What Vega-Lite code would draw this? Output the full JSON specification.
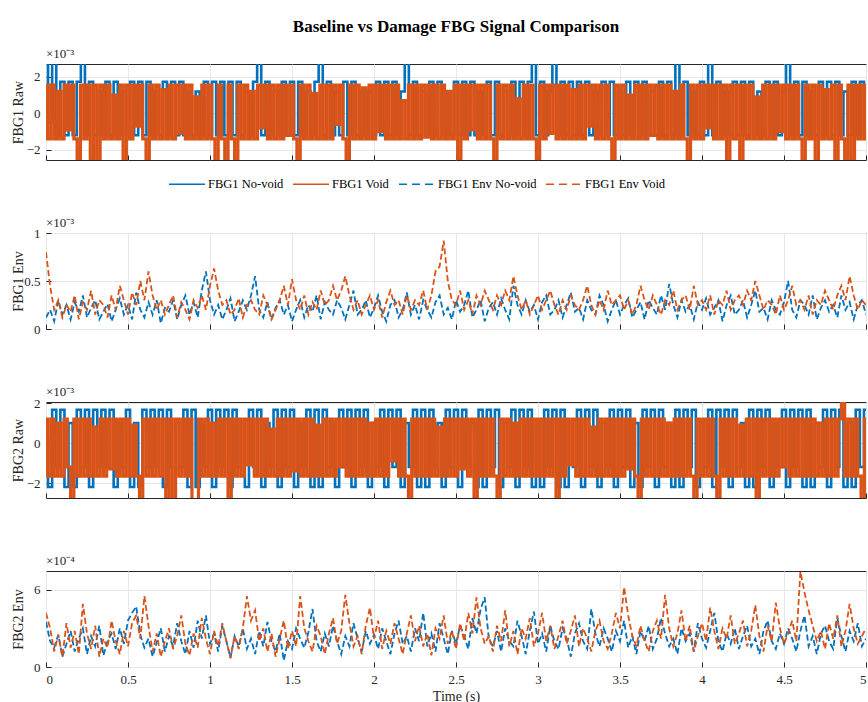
{
"$schema":"https://vega.github.io/schema/vega-lite/v6.json",
"background":"white",
"padding":{"left":10,"top":17,"right":0,"bottom":0},
"bounds":"flush",
"spacing":73,
"title":{"text":"Baseline vs Damage FBG Signal Comparison","fontSize":17,"fontWeight":"bold","font":"Liberation Serif","color":"#000000","anchor":"middle","frame":"group","offset":12},
"config":{
"view":{"stroke":"#262626","strokeWidth":1},
"axis":{"labelFont":"Liberation Serif","labelFontSize":13,"labelColor":"#262626","titleFont":"Liberation Serif","titleFontSize":14,"titleFontWeight":"normal","titleColor":"#262626","gridColor":"#e6e6e6","gridWidth":1,"domain":false,"tickColor":"#262626","tickSize":-5,"labelPadding":11,"labelOverlap":false,"format":"~g"}
},
"resolve":{"scale":{"color":"independent","strokeDash":"independent"},"legend":{"color":"independent","strokeDash":"independent"}},
"datasets":{
"a":[
{"t":0,"v":2.8},{"t":25,"v":-0.5},{"t":50,"v":2.8},{"t":75,"v":-1.2},{"t":100,"v":1.73},{"t":125,"v":-1.2},{"t":150,"v":1.73},{"t":175,"v":-1.2},{"t":200,"v":1.73},{"t":225,"v":2.8},
{"t":250,"v":-1.2},{"t":275,"v":1.73},{"t":300,"v":-1.2},{"t":325,"v":1.2},{"t":350,"v":-1.2},{"t":375,"v":1.73},{"t":400,"v":-1.2},{"t":425,"v":1.73},{"t":450,"v":-1.2},{"t":475,"v":1.2},
{"t":500,"v":-1.2},{"t":525,"v":1.73},{"t":550,"v":-1.2},{"t":575,"v":1.73},{"t":600,"v":-1.2},{"t":625,"v":1.73},{"t":650,"v":-1.2},{"t":675,"v":1.2},{"t":700,"v":-1.2},{"t":725,"v":1.73},
{"t":750,"v":-1.2},{"t":775,"v":1.73},{"t":800,"v":-1.2},{"t":825,"v":1.73},{"t":850,"v":-1.2},{"t":875,"v":1.2},{"t":900,"v":-1.2},{"t":925,"v":1.2},{"t":950,"v":-1.2},{"t":975,"v":1.73},
{"t":1000,"v":-1.2},{"t":1025,"v":1.73},{"t":1050,"v":-1.2},{"t":1075,"v":1.73},{"t":1100,"v":-1.2},{"t":1125,"v":1.73},{"t":1150,"v":-1.2},{"t":1175,"v":1.73},{"t":1200,"v":-1.2},{"t":1225,"v":1.2},
{"t":1250,"v":-1.2},{"t":1275,"v":1.73},{"t":1300,"v":2.8},{"t":1325,"v":-1.2},{"t":1350,"v":1.73},{"t":1375,"v":-1.2},{"t":1400,"v":1.2},{"t":1425,"v":-1.2},{"t":1450,"v":1.73},{"t":1475,"v":-1.2},
{"t":1500,"v":1.73},{"t":1525,"v":-1.2},{"t":1550,"v":1.73},{"t":1575,"v":-1.2},{"t":1600,"v":1.2},{"t":1625,"v":-1.2},{"t":1650,"v":1.73},{"t":1675,"v":2.8},{"t":1700,"v":-1.2},{"t":1725,"v":1.73},
{"t":1750,"v":-1.2},{"t":1775,"v":1.2},{"t":1800,"v":-1.2},{"t":1825,"v":1.73},{"t":1850,"v":-1.2},{"t":1875,"v":1.73},{"t":1900,"v":-1.2},{"t":1925,"v":1.2},{"t":1950,"v":-1.2},{"t":1975,"v":1.2},
{"t":2000,"v":-1.2},{"t":2025,"v":1.73},{"t":2050,"v":-1.2},{"t":2075,"v":1.73},{"t":2100,"v":-1.2},{"t":2125,"v":1.73},{"t":2150,"v":-1.2},{"t":2175,"v":1.2},{"t":2200,"v":2.8},{"t":2225,"v":-1.2},
{"t":2250,"v":1.73},{"t":2275,"v":-1.2},{"t":2300,"v":1.2},{"t":2325,"v":-1.2},{"t":2350,"v":1.73},{"t":2375,"v":-1.2},{"t":2400,"v":1.73},{"t":2425,"v":-1.2},{"t":2450,"v":1.2},{"t":2475,"v":-1.2},
{"t":2500,"v":1.73},{"t":2525,"v":-1.2},{"t":2550,"v":1.73},{"t":2575,"v":-1.2},{"t":2600,"v":1.73},{"t":2625,"v":-1.2},{"t":2650,"v":1.2},{"t":2675,"v":-1.2},{"t":2700,"v":1.73},{"t":2725,"v":-1.2},
{"t":2750,"v":1.73},{"t":2775,"v":-1.2},{"t":2800,"v":1.2},{"t":2825,"v":-1.2},{"t":2850,"v":1.73},{"t":2875,"v":-1.2},{"t":2900,"v":1.73},{"t":2925,"v":-1.2},{"t":2950,"v":1.73},{"t":2975,"v":2.8},
{"t":3000,"v":-1.2},{"t":3025,"v":1.73},{"t":3050,"v":-1.2},{"t":3075,"v":1.2},{"t":3100,"v":2.8},{"t":3125,"v":-1.2},{"t":3150,"v":1.73},{"t":3175,"v":-1.2},{"t":3200,"v":1.73},{"t":3225,"v":-1.2},
{"t":3250,"v":1.73},{"t":3275,"v":-1.2},{"t":3300,"v":1.73},{"t":3325,"v":-1.2},{"t":3350,"v":1.2},{"t":3375,"v":-1.2},{"t":3400,"v":1.73},{"t":3425,"v":-1.2},{"t":3450,"v":1.73},{"t":3475,"v":-1.2},
{"t":3500,"v":1.2},{"t":3525,"v":-1.2},{"t":3550,"v":1.73},{"t":3575,"v":-1.2},{"t":3600,"v":1.73},{"t":3625,"v":-1.2},{"t":3650,"v":1.73},{"t":3675,"v":-1.2},{"t":3700,"v":1.2},{"t":3725,"v":-1.2},
{"t":3750,"v":1.73},{"t":3775,"v":-1.2},{"t":3800,"v":1.73},{"t":3825,"v":-1.2},{"t":3850,"v":2.8},{"t":3875,"v":-1.2},{"t":3900,"v":1.73},{"t":3925,"v":-1.2},{"t":3950,"v":1.2},{"t":3975,"v":-1.2},
{"t":4000,"v":1.73},{"t":4025,"v":-1.2},{"t":4050,"v":2.8},{"t":4075,"v":-1.2},{"t":4100,"v":1.73},{"t":4125,"v":-1.2},{"t":4150,"v":1.2},{"t":4175,"v":-1.2},{"t":4200,"v":1.73},{"t":4225,"v":-1.2},
{"t":4250,"v":1.73},{"t":4275,"v":-1.2},{"t":4300,"v":1.73},{"t":4325,"v":-1.2},{"t":4350,"v":1.2},{"t":4375,"v":-1.2},{"t":4400,"v":1.73},{"t":4425,"v":-1.2},{"t":4450,"v":1.73},{"t":4475,"v":-1.2},
{"t":4500,"v":1.2},{"t":4525,"v":2.8},{"t":4550,"v":-1.2},{"t":4575,"v":1.73},{"t":4600,"v":-1.2},{"t":4625,"v":1.73},{"t":4650,"v":-1.2},{"t":4675,"v":1.2},{"t":4700,"v":-1.2},{"t":4725,"v":1.73},
{"t":4750,"v":-1.2},{"t":4775,"v":1.73},{"t":4800,"v":-1.2},{"t":4825,"v":1.73},{"t":4850,"v":-1.2},{"t":4875,"v":1.2},{"t":4900,"v":-1.2},{"t":4925,"v":1.73},{"t":4950,"v":-1.2},{"t":4975,"v":1.73},
{"t":5000,"v":-1.2}
],
"b":[
{"t":0,"v":1.55},{"t":20,"v":-1.4},{"t":40,"v":1.55},{"t":60,"v":-1.4},{"t":80,"v":1.2},{"t":100,"v":-1.4},{"t":120,"v":1.55},{"t":140,"v":-0.9},{"t":160,"v":1.55},{"t":180,"v":-1.4},
{"t":200,"v":-2.6},{"t":220,"v":1.55},{"t":240,"v":-1.4},{"t":260,"v":1.55},{"t":280,"v":-2.6},{"t":300,"v":1.55},{"t":320,"v":-2.6},{"t":340,"v":1.55},{"t":360,"v":-1.4},{"t":380,"v":1.55},
{"t":400,"v":-1.4},{"t":420,"v":1.0},{"t":440,"v":-1.4},{"t":460,"v":1.55},{"t":480,"v":-2.6},{"t":500,"v":1.55},{"t":520,"v":-1.4},{"t":540,"v":1.55},{"t":560,"v":-0.7},{"t":580,"v":1.55},
{"t":600,"v":-1.4},{"t":620,"v":-2.6},{"t":640,"v":1.55},{"t":660,"v":-1.4},{"t":680,"v":1.55},{"t":700,"v":-1.4},{"t":720,"v":1.3},{"t":740,"v":-1.4},{"t":760,"v":1.55},{"t":780,"v":-1.4},
{"t":800,"v":1.55},{"t":820,"v":-1.1},{"t":840,"v":1.55},{"t":860,"v":-1.4},{"t":880,"v":1.55},{"t":900,"v":-1.4},{"t":920,"v":0.9},{"t":940,"v":-1.4},{"t":960,"v":1.55},{"t":980,"v":-1.4},
{"t":1000,"v":1.55},{"t":1020,"v":-1.4},{"t":1040,"v":-2.6},{"t":1060,"v":1.55},{"t":1080,"v":-1.4},{"t":1100,"v":-2.6},{"t":1120,"v":1.55},{"t":1140,"v":-1.4},{"t":1160,"v":-2.6},{"t":1180,"v":1.55},
{"t":1200,"v":-1.4},{"t":1220,"v":1.55},{"t":1240,"v":-1.4},{"t":1260,"v":1.2},{"t":1280,"v":-1.4},{"t":1300,"v":1.55},{"t":1320,"v":-0.8},{"t":1340,"v":1.55},{"t":1360,"v":-1.4},{"t":1380,"v":1.55},
{"t":1400,"v":-1.4},{"t":1420,"v":1.55},{"t":1440,"v":-1.4},{"t":1460,"v":1.55},{"t":1480,"v":-1.2},{"t":1500,"v":1.55},{"t":1520,"v":-1.4},{"t":1540,"v":-2.6},{"t":1560,"v":1.55},{"t":1580,"v":-1.4},
{"t":1600,"v":1.55},{"t":1620,"v":-1.4},{"t":1640,"v":1.1},{"t":1660,"v":-1.4},{"t":1680,"v":1.55},{"t":1700,"v":-1.4},{"t":1720,"v":1.55},{"t":1740,"v":-1.4},{"t":1760,"v":1.55},{"t":1780,"v":-0.6},
{"t":1800,"v":1.55},{"t":1820,"v":-1.4},{"t":1840,"v":-2.6},{"t":1860,"v":1.55},{"t":1880,"v":-1.4},{"t":1900,"v":1.55},{"t":1920,"v":-1.4},{"t":1940,"v":1.4},{"t":1960,"v":-1.4},{"t":1980,"v":1.55},
{"t":2000,"v":-1.4},{"t":2020,"v":1.55},{"t":2040,"v":-1.0},{"t":2060,"v":1.55},{"t":2080,"v":-1.4},{"t":2100,"v":1.55},{"t":2120,"v":-1.4},{"t":2140,"v":1.55},{"t":2160,"v":-1.4},{"t":2180,"v":0.7},
{"t":2200,"v":-1.4},{"t":2220,"v":1.55},{"t":2240,"v":-1.4},{"t":2260,"v":1.55},{"t":2280,"v":-1.4},{"t":2300,"v":1.55},{"t":2320,"v":-1.3},{"t":2340,"v":1.55},{"t":2360,"v":-1.4},{"t":2380,"v":1.55},
{"t":2400,"v":-1.4},{"t":2420,"v":1.55},{"t":2440,"v":-1.4},{"t":2460,"v":1.2},{"t":2480,"v":-1.4},{"t":2500,"v":1.55},{"t":2520,"v":-2.6},{"t":2540,"v":1.55},{"t":2560,"v":-1.4},{"t":2580,"v":1.55},
{"t":2600,"v":-0.9},{"t":2620,"v":1.55},{"t":2640,"v":-1.4},{"t":2660,"v":1.55},{"t":2680,"v":-1.4},{"t":2700,"v":1.55},{"t":2720,"v":-1.4},{"t":2740,"v":-2.6},{"t":2760,"v":1.55},{"t":2780,"v":-1.4},
{"t":2800,"v":1.55},{"t":2820,"v":-1.4},{"t":2840,"v":1.55},{"t":2860,"v":-1.4},{"t":2880,"v":0.8},{"t":2900,"v":-1.4},{"t":2920,"v":1.55},{"t":2940,"v":-1.4},{"t":2960,"v":1.55},{"t":2980,"v":-1.4},
{"t":3000,"v":-2.6},{"t":3020,"v":1.55},{"t":3040,"v":-1.4},{"t":3060,"v":1.55},{"t":3080,"v":-1.1},{"t":3100,"v":1.55},{"t":3120,"v":-1.4},{"t":3140,"v":1.55},{"t":3160,"v":-1.4},{"t":3180,"v":1.55},
{"t":3200,"v":-1.4},{"t":3220,"v":1.3},{"t":3240,"v":-1.4},{"t":3260,"v":1.55},{"t":3280,"v":-1.4},{"t":3300,"v":1.55},{"t":3320,"v":-0.7},{"t":3340,"v":1.55},{"t":3360,"v":-1.4},{"t":3380,"v":1.55},
{"t":3400,"v":-1.4},{"t":3420,"v":1.55},{"t":3440,"v":-1.4},{"t":3460,"v":-2.6},{"t":3480,"v":1.55},{"t":3500,"v":-1.4},{"t":3520,"v":1.55},{"t":3540,"v":-1.4},{"t":3560,"v":1.0},{"t":3580,"v":-1.4},
{"t":3600,"v":1.55},{"t":3620,"v":-1.4},{"t":3640,"v":1.55},{"t":3660,"v":-1.4},{"t":3680,"v":1.55},{"t":3700,"v":-1.2},{"t":3720,"v":1.55},{"t":3740,"v":-1.4},{"t":3760,"v":1.55},{"t":3780,"v":-1.4},
{"t":3800,"v":1.55},{"t":3820,"v":-1.4},{"t":3840,"v":1.2},{"t":3860,"v":-1.4},{"t":3880,"v":1.55},{"t":3900,"v":-1.4},{"t":3920,"v":-2.6},{"t":3940,"v":1.55},{"t":3960,"v":-1.4},{"t":3980,"v":1.55},
{"t":4000,"v":-1.4},{"t":4020,"v":1.55},{"t":4040,"v":-0.8},{"t":4060,"v":1.55},{"t":4080,"v":-1.4},{"t":4100,"v":1.55},{"t":4120,"v":-1.4},{"t":4140,"v":1.55},{"t":4160,"v":-2.6},{"t":4180,"v":1.55},
{"t":4200,"v":-1.4},{"t":4220,"v":1.55},{"t":4240,"v":-2.6},{"t":4260,"v":1.55},{"t":4280,"v":-1.4},{"t":4300,"v":1.55},{"t":4320,"v":-1.4},{"t":4340,"v":0.9},{"t":4360,"v":-1.4},{"t":4380,"v":1.55},
{"t":4400,"v":-1.4},{"t":4420,"v":1.55},{"t":4440,"v":-1.4},{"t":4460,"v":1.55},{"t":4480,"v":-1.0},{"t":4500,"v":1.55},{"t":4520,"v":-1.4},{"t":4540,"v":1.55},{"t":4560,"v":-1.4},{"t":4580,"v":1.55},
{"t":4600,"v":-1.4},{"t":4620,"v":-2.6},{"t":4640,"v":1.55},{"t":4660,"v":-1.4},{"t":4680,"v":1.55},{"t":4700,"v":-2.6},{"t":4720,"v":1.55},{"t":4740,"v":-1.4},{"t":4760,"v":1.3},{"t":4780,"v":-1.4},
{"t":4800,"v":1.55},{"t":4820,"v":-2.6},{"t":4840,"v":1.55},{"t":4860,"v":-1.4},{"t":4880,"v":-2.6},{"t":4900,"v":1.55},{"t":4920,"v":-2.6},{"t":4940,"v":1.55},{"t":4960,"v":-1.4},{"t":4980,"v":1.55},
{"t":5000,"v":-1.4}
],
"c":[
{"t":0,"v":0.12},{"t":25,"v":0.2},{"t":50,"v":0.08},{"t":75,"v":0.3},{"t":100,"v":0.15},{"t":125,"v":0.25},{"t":150,"v":0.1},{"t":175,"v":0.28},{"t":200,"v":0.18},{"t":225,"v":0.35},
{"t":250,"v":0.12},{"t":275,"v":0.22},{"t":300,"v":0.3},{"t":325,"v":0.1},{"t":350,"v":0.18},{"t":375,"v":0.26},{"t":400,"v":0.08},{"t":425,"v":0.2},{"t":450,"v":0.32},{"t":475,"v":0.15},
{"t":500,"v":0.25},{"t":525,"v":0.1},{"t":550,"v":0.38},{"t":575,"v":0.2},{"t":600,"v":0.12},{"t":625,"v":0.28},{"t":650,"v":0.15},{"t":675,"v":0.3},{"t":700,"v":0.06},{"t":725,"v":0.22},
{"t":750,"v":0.18},{"t":775,"v":0.3},{"t":800,"v":0.1},{"t":825,"v":0.25},{"t":850,"v":0.35},{"t":875,"v":0.15},{"t":900,"v":0.28},{"t":925,"v":0.12},{"t":950,"v":0.4},{"t":975,"v":0.6},
{"t":1000,"v":0.3},{"t":1025,"v":0.15},{"t":1050,"v":0.25},{"t":1075,"v":0.1},{"t":1100,"v":0.2},{"t":1125,"v":0.32},{"t":1150,"v":0.08},{"t":1175,"v":0.18},{"t":1200,"v":0.3},{"t":1225,"v":0.2},
{"t":1250,"v":0.35},{"t":1275,"v":0.55},{"t":1300,"v":0.2},{"t":1325,"v":0.12},{"t":1350,"v":0.28},{"t":1375,"v":0.1},{"t":1400,"v":0.22},{"t":1425,"v":0.3},{"t":1450,"v":0.15},{"t":1475,"v":0.25},
{"t":1500,"v":0.08},{"t":1525,"v":0.2},{"t":1550,"v":0.3},{"t":1575,"v":0.12},{"t":1600,"v":0.25},{"t":1625,"v":0.18},{"t":1650,"v":0.35},{"t":1675,"v":0.1},{"t":1700,"v":0.28},{"t":1725,"v":0.2},
{"t":1750,"v":0.15},{"t":1775,"v":0.3},{"t":1800,"v":0.22},{"t":1825,"v":0.1},{"t":1850,"v":0.25},{"t":1875,"v":0.4},{"t":1900,"v":0.15},{"t":1925,"v":0.2},{"t":1950,"v":0.3},{"t":1975,"v":0.12},
{"t":2000,"v":0.22},{"t":2025,"v":0.35},{"t":2050,"v":0.18},{"t":2075,"v":0.08},{"t":2100,"v":0.25},{"t":2125,"v":0.3},{"t":2150,"v":0.12},{"t":2175,"v":0.2},{"t":2200,"v":0.38},{"t":2225,"v":0.15},
{"t":2250,"v":0.25},{"t":2275,"v":0.1},{"t":2300,"v":0.3},{"t":2325,"v":0.2},{"t":2350,"v":0.12},{"t":2375,"v":0.28},{"t":2400,"v":0.35},{"t":2425,"v":0.15},{"t":2450,"v":0.22},{"t":2475,"v":0.1},
{"t":2500,"v":0.3},{"t":2525,"v":0.18},{"t":2550,"v":0.25},{"t":2575,"v":0.4},{"t":2600,"v":0.12},{"t":2625,"v":0.2},{"t":2650,"v":0.3},{"t":2675,"v":0.08},{"t":2700,"v":0.22},{"t":2725,"v":0.28},
{"t":2750,"v":0.15},{"t":2775,"v":0.32},{"t":2800,"v":0.2},{"t":2825,"v":0.1},{"t":2850,"v":0.45},{"t":2875,"v":0.25},{"t":2900,"v":0.15},{"t":2925,"v":0.3},{"t":2950,"v":0.18},{"t":2975,"v":0.25},
{"t":3000,"v":0.1},{"t":3025,"v":0.28},{"t":3050,"v":0.35},{"t":3075,"v":0.15},{"t":3100,"v":0.2},{"t":3125,"v":0.3},{"t":3150,"v":0.12},{"t":3175,"v":0.25},{"t":3200,"v":0.38},{"t":3225,"v":0.18},
{"t":3250,"v":0.22},{"t":3275,"v":0.1},{"t":3300,"v":0.3},{"t":3325,"v":0.2},{"t":3350,"v":0.15},{"t":3375,"v":0.35},{"t":3400,"v":0.25},{"t":3425,"v":0.08},{"t":3450,"v":0.2},{"t":3475,"v":0.3},
{"t":3500,"v":0.15},{"t":3525,"v":0.25},{"t":3550,"v":0.32},{"t":3575,"v":0.12},{"t":3600,"v":0.2},{"t":3625,"v":0.28},{"t":3650,"v":0.1},{"t":3675,"v":0.3},{"t":3700,"v":0.22},{"t":3725,"v":0.15},
{"t":3750,"v":0.35},{"t":3775,"v":0.2},{"t":3800,"v":0.47},{"t":3825,"v":0.25},{"t":3850,"v":0.12},{"t":3875,"v":0.3},{"t":3900,"v":0.18},{"t":3925,"v":0.25},{"t":3950,"v":0.1},{"t":3975,"v":0.28},
{"t":4000,"v":0.2},{"t":4025,"v":0.32},{"t":4050,"v":0.15},{"t":4075,"v":0.22},{"t":4100,"v":0.3},{"t":4125,"v":0.08},{"t":4150,"v":0.25},{"t":4175,"v":0.35},{"t":4200,"v":0.15},{"t":4225,"v":0.2},
{"t":4250,"v":0.3},{"t":4275,"v":0.12},{"t":4300,"v":0.25},{"t":4325,"v":0.4},{"t":4350,"v":0.18},{"t":4375,"v":0.22},{"t":4400,"v":0.1},{"t":4425,"v":0.3},{"t":4450,"v":0.2},{"t":4475,"v":0.15},
{"t":4500,"v":0.28},{"t":4525,"v":0.5},{"t":4550,"v":0.2},{"t":4575,"v":0.12},{"t":4600,"v":0.3},{"t":4625,"v":0.25},{"t":4650,"v":0.15},{"t":4675,"v":0.35},{"t":4700,"v":0.1},{"t":4725,"v":0.22},
{"t":4750,"v":0.3},{"t":4775,"v":0.18},{"t":4800,"v":0.25},{"t":4825,"v":0.12},{"t":4850,"v":0.35},{"t":4875,"v":0.2},{"t":4900,"v":0.28},{"t":4925,"v":0.1},{"t":4950,"v":0.25},{"t":4975,"v":0.3},
{"t":5000,"v":0.15}
],
"d":[
{"t":0,"v":0.8},{"t":25,"v":0.45},{"t":50,"v":0.2},{"t":75,"v":0.3},{"t":100,"v":0.12},{"t":125,"v":0.25},{"t":150,"v":0.18},{"t":175,"v":0.35},{"t":200,"v":0.1},{"t":225,"v":0.28},
{"t":250,"v":0.2},{"t":275,"v":0.4},{"t":300,"v":0.15},{"t":325,"v":0.3},{"t":350,"v":0.25},{"t":375,"v":0.12},{"t":400,"v":0.35},{"t":425,"v":0.2},{"t":450,"v":0.45},{"t":475,"v":0.3},
{"t":500,"v":0.15},{"t":525,"v":0.38},{"t":550,"v":0.25},{"t":575,"v":0.5},{"t":600,"v":0.3},{"t":625,"v":0.6},{"t":650,"v":0.35},{"t":675,"v":0.2},{"t":700,"v":0.3},{"t":725,"v":0.15},
{"t":750,"v":0.25},{"t":775,"v":0.35},{"t":800,"v":0.12},{"t":825,"v":0.28},{"t":850,"v":0.2},{"t":875,"v":0.1},{"t":900,"v":0.3},{"t":925,"v":0.22},{"t":950,"v":0.35},{"t":975,"v":0.2},
{"t":1000,"v":0.45},{"t":1025,"v":0.63},{"t":1050,"v":0.4},{"t":1075,"v":0.25},{"t":1100,"v":0.3},{"t":1125,"v":0.15},{"t":1150,"v":0.2},{"t":1175,"v":0.32},{"t":1200,"v":0.12},{"t":1225,"v":0.25},
{"t":1250,"v":0.3},{"t":1275,"v":0.2},{"t":1300,"v":0.15},{"t":1325,"v":0.35},{"t":1350,"v":0.25},{"t":1375,"v":0.1},{"t":1400,"v":0.2},{"t":1425,"v":0.3},{"t":1450,"v":0.45},{"t":1475,"v":0.25},
{"t":1500,"v":0.52},{"t":1525,"v":0.3},{"t":1550,"v":0.2},{"t":1575,"v":0.35},{"t":1600,"v":0.15},{"t":1625,"v":0.28},{"t":1650,"v":0.2},{"t":1675,"v":0.4},{"t":1700,"v":0.25},{"t":1725,"v":0.3},
{"t":1750,"v":0.45},{"t":1775,"v":0.3},{"t":1800,"v":0.4},{"t":1825,"v":0.55},{"t":1850,"v":0.35},{"t":1875,"v":0.2},{"t":1900,"v":0.3},{"t":1925,"v":0.15},{"t":1950,"v":0.25},{"t":1975,"v":0.35},
{"t":2000,"v":0.2},{"t":2025,"v":0.3},{"t":2050,"v":0.12},{"t":2075,"v":0.28},{"t":2100,"v":0.4},{"t":2125,"v":0.25},{"t":2150,"v":0.3},{"t":2175,"v":0.15},{"t":2200,"v":0.35},{"t":2225,"v":0.2},
{"t":2250,"v":0.3},{"t":2275,"v":0.25},{"t":2300,"v":0.4},{"t":2325,"v":0.2},{"t":2350,"v":0.35},{"t":2375,"v":0.6},{"t":2400,"v":0.65},{"t":2425,"v":0.92},{"t":2450,"v":0.5},{"t":2475,"v":0.3},
{"t":2500,"v":0.25},{"t":2525,"v":0.4},{"t":2550,"v":0.2},{"t":2575,"v":0.3},{"t":2600,"v":0.15},{"t":2625,"v":0.35},{"t":2650,"v":0.25},{"t":2675,"v":0.4},{"t":2700,"v":0.3},{"t":2725,"v":0.2},
{"t":2750,"v":0.35},{"t":2775,"v":0.25},{"t":2800,"v":0.4},{"t":2825,"v":0.3},{"t":2850,"v":0.55},{"t":2875,"v":0.35},{"t":2900,"v":0.2},{"t":2925,"v":0.3},{"t":2950,"v":0.15},{"t":2975,"v":0.25},
{"t":3000,"v":0.35},{"t":3025,"v":0.2},{"t":3050,"v":0.3},{"t":3075,"v":0.4},{"t":3100,"v":0.25},{"t":3125,"v":0.15},{"t":3150,"v":0.3},{"t":3175,"v":0.2},{"t":3200,"v":0.35},{"t":3225,"v":0.25},
{"t":3250,"v":0.2},{"t":3275,"v":0.3},{"t":3300,"v":0.45},{"t":3325,"v":0.25},{"t":3350,"v":0.15},{"t":3375,"v":0.3},{"t":3400,"v":0.2},{"t":3425,"v":0.4},{"t":3450,"v":0.25},{"t":3475,"v":0.3},
{"t":3500,"v":0.35},{"t":3525,"v":0.2},{"t":3550,"v":0.3},{"t":3575,"v":0.15},{"t":3600,"v":0.25},{"t":3625,"v":0.45},{"t":3650,"v":0.3},{"t":3675,"v":0.2},{"t":3700,"v":0.35},{"t":3725,"v":0.25},
{"t":3750,"v":0.15},{"t":3775,"v":0.3},{"t":3800,"v":0.25},{"t":3825,"v":0.4},{"t":3850,"v":0.2},{"t":3875,"v":0.3},{"t":3900,"v":0.35},{"t":3925,"v":0.2},{"t":3950,"v":0.45},{"t":3975,"v":0.25},
{"t":4000,"v":0.3},{"t":4025,"v":0.2},{"t":4050,"v":0.35},{"t":4075,"v":0.15},{"t":4100,"v":0.3},{"t":4125,"v":0.25},{"t":4150,"v":0.4},{"t":4175,"v":0.2},{"t":4200,"v":0.3},{"t":4225,"v":0.35},
{"t":4250,"v":0.25},{"t":4275,"v":0.4},{"t":4300,"v":0.3},{"t":4325,"v":0.5},{"t":4350,"v":0.35},{"t":4375,"v":0.2},{"t":4400,"v":0.3},{"t":4425,"v":0.25},{"t":4450,"v":0.15},{"t":4475,"v":0.35},
{"t":4500,"v":0.2},{"t":4525,"v":0.3},{"t":4550,"v":0.45},{"t":4575,"v":0.25},{"t":4600,"v":0.3},{"t":4625,"v":0.2},{"t":4650,"v":0.35},{"t":4675,"v":0.15},{"t":4700,"v":0.3},{"t":4725,"v":0.25},
{"t":4750,"v":0.4},{"t":4775,"v":0.3},{"t":4800,"v":0.2},{"t":4825,"v":0.35},{"t":4850,"v":0.45},{"t":4875,"v":0.3},{"t":4900,"v":0.55},{"t":4925,"v":0.35},{"t":4950,"v":0.2},{"t":4975,"v":0.3},
{"t":5000,"v":0.25}
],
"e":[
{"t":0,"v":0.3},{"t":25,"v":-2.2},{"t":50,"v":1.66},{"t":75,"v":-1.2},{"t":100,"v":1.66},{"t":125,"v":-2.2},{"t":150,"v":1.0},{"t":175,"v":-2.2},{"t":200,"v":1.66},{"t":225,"v":-1.2},
{"t":250,"v":1.66},{"t":275,"v":-2.2},{"t":300,"v":1.66},{"t":325,"v":-1.2},{"t":350,"v":1.66},{"t":375,"v":-1.2},{"t":400,"v":1.66},{"t":425,"v":-2.2},{"t":450,"v":1.0},{"t":475,"v":-1.2},
{"t":500,"v":1.66},{"t":525,"v":-2.2},{"t":550,"v":1.0},{"t":575,"v":-2.2},{"t":600,"v":1.66},{"t":625,"v":-1.2},{"t":650,"v":1.66},{"t":675,"v":-1.2},{"t":700,"v":1.66},{"t":725,"v":-2.2},
{"t":750,"v":1.66},{"t":775,"v":-1.2},{"t":800,"v":1.0},{"t":825,"v":-1.2},{"t":850,"v":1.66},{"t":875,"v":-2.2},{"t":900,"v":1.66},{"t":925,"v":-2.2},{"t":950,"v":1.0},{"t":975,"v":-1.2},
{"t":1000,"v":1.66},{"t":1025,"v":-2.2},{"t":1050,"v":1.66},{"t":1075,"v":-1.2},{"t":1100,"v":1.66},{"t":1125,"v":-2.2},{"t":1150,"v":1.66},{"t":1175,"v":-1.2},{"t":1200,"v":1.0},{"t":1225,"v":-2.2},
{"t":1250,"v":1.66},{"t":1275,"v":-1.2},{"t":1300,"v":1.66},{"t":1325,"v":-2.2},{"t":1350,"v":1.0},{"t":1375,"v":-1.2},{"t":1400,"v":1.66},{"t":1425,"v":-2.2},{"t":1450,"v":1.66},{"t":1475,"v":-1.2},
{"t":1500,"v":1.66},{"t":1525,"v":-2.2},{"t":1550,"v":1.0},{"t":1575,"v":-1.2},{"t":1600,"v":1.66},{"t":1625,"v":-2.2},{"t":1650,"v":1.66},{"t":1675,"v":-2.2},{"t":1700,"v":1.66},{"t":1725,"v":-1.2},
{"t":1750,"v":1.0},{"t":1775,"v":-2.2},{"t":1800,"v":1.66},{"t":1825,"v":-1.2},{"t":1850,"v":1.66},{"t":1875,"v":-2.2},{"t":1900,"v":1.66},{"t":1925,"v":-1.2},{"t":1950,"v":1.66},{"t":1975,"v":-2.2},
{"t":2000,"v":1.0},{"t":2025,"v":-1.2},{"t":2050,"v":1.66},{"t":2075,"v":-2.2},{"t":2100,"v":1.66},{"t":2125,"v":-1.2},{"t":2150,"v":1.66},{"t":2175,"v":-2.2},{"t":2200,"v":1.0},{"t":2225,"v":-1.2},
{"t":2250,"v":1.66},{"t":2275,"v":-2.2},{"t":2300,"v":1.66},{"t":2325,"v":-2.2},{"t":2350,"v":1.66},{"t":2375,"v":-1.2},{"t":2400,"v":1.0},{"t":2425,"v":-2.2},{"t":2450,"v":1.66},{"t":2475,"v":-1.2},
{"t":2500,"v":1.66},{"t":2525,"v":-2.2},{"t":2550,"v":1.66},{"t":2575,"v":-1.2},{"t":2600,"v":1.0},{"t":2625,"v":-2.2},{"t":2650,"v":1.66},{"t":2675,"v":-2.2},{"t":2700,"v":1.66},{"t":2725,"v":-1.2},
{"t":2750,"v":1.66},{"t":2775,"v":-2.2},{"t":2800,"v":1.0},{"t":2825,"v":-1.2},{"t":2850,"v":1.66},{"t":2875,"v":-2.2},{"t":2900,"v":1.66},{"t":2925,"v":-1.2},{"t":2950,"v":1.66},{"t":2975,"v":-2.2},
{"t":3000,"v":1.0},{"t":3025,"v":-2.2},{"t":3050,"v":1.66},{"t":3075,"v":-1.2},{"t":3100,"v":1.66},{"t":3125,"v":-2.2},{"t":3150,"v":1.66},{"t":3175,"v":-2.2},{"t":3200,"v":1.0},{"t":3225,"v":-1.2},
{"t":3250,"v":1.66},{"t":3275,"v":-2.2},{"t":3300,"v":1.66},{"t":3325,"v":-1.2},{"t":3350,"v":1.66},{"t":3375,"v":-2.2},{"t":3400,"v":1.0},{"t":3425,"v":-1.2},{"t":3450,"v":1.66},{"t":3475,"v":-2.2},
{"t":3500,"v":1.66},{"t":3525,"v":-1.2},{"t":3550,"v":1.66},{"t":3575,"v":-2.2},{"t":3600,"v":1.0},{"t":3625,"v":-2.2},{"t":3650,"v":1.66},{"t":3675,"v":-1.2},{"t":3700,"v":1.66},{"t":3725,"v":-2.2},
{"t":3750,"v":1.66},{"t":3775,"v":-1.2},{"t":3800,"v":1.0},{"t":3825,"v":-2.2},{"t":3850,"v":1.66},{"t":3875,"v":-2.2},{"t":3900,"v":1.66},{"t":3925,"v":-1.2},{"t":3950,"v":1.66},{"t":3975,"v":-2.2},
{"t":4000,"v":1.0},{"t":4025,"v":-1.2},{"t":4050,"v":1.66},{"t":4075,"v":-2.2},{"t":4100,"v":1.66},{"t":4125,"v":-1.2},{"t":4150,"v":1.66},{"t":4175,"v":-2.2},{"t":4200,"v":1.66},{"t":4225,"v":-1.2},
{"t":4250,"v":1.0},{"t":4275,"v":-2.2},{"t":4300,"v":1.66},{"t":4325,"v":-2.2},{"t":4350,"v":1.66},{"t":4375,"v":-1.2},{"t":4400,"v":1.66},{"t":4425,"v":-2.2},{"t":4450,"v":1.0},{"t":4475,"v":-1.2},
{"t":4500,"v":1.66},{"t":4525,"v":-2.2},{"t":4550,"v":1.66},{"t":4575,"v":-1.2},{"t":4600,"v":1.66},{"t":4625,"v":-2.2},{"t":4650,"v":1.66},{"t":4675,"v":-2.2},{"t":4700,"v":1.0},{"t":4725,"v":-1.2},
{"t":4750,"v":1.66},{"t":4775,"v":-2.2},{"t":4800,"v":1.66},{"t":4825,"v":-1.2},{"t":4850,"v":1.66},{"t":4875,"v":-2.2},{"t":4900,"v":1.0},{"t":4925,"v":-2.2},{"t":4950,"v":1.66},{"t":4975,"v":-1.2},
{"t":5000,"v":1.66}
],
"f":[
{"t":0,"v":1.2},{"t":20,"v":-1.66},{"t":40,"v":1.2},{"t":60,"v":-1.66},{"t":80,"v":1.0},{"t":100,"v":-1.66},{"t":120,"v":1.2},{"t":140,"v":-1.2},{"t":160,"v":-2.9},{"t":180,"v":1.2},
{"t":200,"v":-1.66},{"t":220,"v":1.2},{"t":240,"v":-1.66},{"t":260,"v":1.2},{"t":280,"v":-1.66},{"t":300,"v":0.8},{"t":320,"v":-1.66},{"t":340,"v":1.2},{"t":360,"v":-1.66},{"t":380,"v":1.2},
{"t":400,"v":-1.3},{"t":420,"v":1.2},{"t":440,"v":-1.66},{"t":460,"v":1.2},{"t":480,"v":-1.66},{"t":500,"v":1.2},{"t":520,"v":-1.66},{"t":540,"v":0.9},{"t":560,"v":-1.66},{"t":580,"v":-2.9},
{"t":600,"v":1.2},{"t":620,"v":-1.66},{"t":640,"v":1.2},{"t":660,"v":-1.66},{"t":680,"v":1.2},{"t":700,"v":-1.66},{"t":720,"v":1.2},{"t":740,"v":-2.9},{"t":760,"v":1.2},{"t":780,"v":-2.9},
{"t":800,"v":1.2},{"t":820,"v":-1.66},{"t":840,"v":1.2},{"t":860,"v":-1.66},{"t":880,"v":1.2},{"t":900,"v":-2.9},{"t":920,"v":-2.9},{"t":940,"v":1.2},{"t":960,"v":-1.66},{"t":980,"v":1.2},
{"t":1000,"v":-1.66},{"t":1020,"v":1.0},{"t":1040,"v":-1.66},{"t":1060,"v":1.2},{"t":1080,"v":-1.66},{"t":1100,"v":1.2},{"t":1120,"v":-2.9},{"t":1140,"v":1.2},{"t":1160,"v":-1.66},{"t":1180,"v":1.2},
{"t":1200,"v":-1.66},{"t":1220,"v":1.2},{"t":1240,"v":-1.1},{"t":1260,"v":1.2},{"t":1280,"v":-1.66},{"t":1300,"v":1.2},{"t":1320,"v":-1.66},{"t":1340,"v":1.2},{"t":1360,"v":-1.66},{"t":1380,"v":0.7},
{"t":1400,"v":-1.66},{"t":1420,"v":1.2},{"t":1440,"v":-1.66},{"t":1460,"v":1.2},{"t":1480,"v":-1.66},{"t":1500,"v":1.2},{"t":1520,"v":-1.4},{"t":1540,"v":1.2},{"t":1560,"v":-1.66},{"t":1580,"v":1.2},
{"t":1600,"v":-1.66},{"t":1620,"v":1.2},{"t":1640,"v":-1.66},{"t":1660,"v":0.9},{"t":1680,"v":-1.66},{"t":1700,"v":1.2},{"t":1720,"v":-1.66},{"t":1740,"v":1.2},{"t":1760,"v":-1.66},{"t":1780,"v":1.2},
{"t":1800,"v":-1.2},{"t":1820,"v":1.2},{"t":1840,"v":-1.66},{"t":1860,"v":1.2},{"t":1880,"v":-1.66},{"t":1900,"v":1.2},{"t":1920,"v":-1.66},{"t":1940,"v":1.2},{"t":1960,"v":-1.66},{"t":1980,"v":1.0},
{"t":2000,"v":-1.66},{"t":2020,"v":1.2},{"t":2040,"v":-1.66},{"t":2060,"v":1.2},{"t":2080,"v":-1.66},{"t":2100,"v":1.2},{"t":2120,"v":-0.9},{"t":2140,"v":1.2},{"t":2160,"v":-1.66},{"t":2180,"v":1.2},
{"t":2200,"v":-1.66},{"t":2220,"v":-2.9},{"t":2240,"v":1.2},{"t":2260,"v":-1.66},{"t":2280,"v":1.2},{"t":2300,"v":-1.66},{"t":2320,"v":1.2},{"t":2340,"v":-1.66},{"t":2360,"v":1.2},{"t":2380,"v":-1.66},
{"t":2400,"v":0.8},{"t":2420,"v":-1.66},{"t":2440,"v":1.2},{"t":2460,"v":-1.66},{"t":2480,"v":1.2},{"t":2500,"v":-1.66},{"t":2520,"v":1.2},{"t":2540,"v":-1.3},{"t":2560,"v":1.2},{"t":2580,"v":-1.66},
{"t":2600,"v":1.2},{"t":2620,"v":-2.9},{"t":2640,"v":1.2},{"t":2660,"v":-1.66},{"t":2680,"v":1.2},{"t":2700,"v":-1.66},{"t":2720,"v":1.2},{"t":2740,"v":-1.66},{"t":2760,"v":-2.9},{"t":2780,"v":1.2},
{"t":2800,"v":-1.66},{"t":2820,"v":1.2},{"t":2840,"v":-1.66},{"t":2860,"v":1.0},{"t":2880,"v":-1.66},{"t":2900,"v":1.2},{"t":2920,"v":-1.66},{"t":2940,"v":1.2},{"t":2960,"v":-1.66},{"t":2980,"v":1.2},
{"t":3000,"v":-1.66},{"t":3020,"v":1.2},{"t":3040,"v":-1.66},{"t":3060,"v":1.2},{"t":3080,"v":-1.66},{"t":3100,"v":1.2},{"t":3120,"v":-2.9},{"t":3140,"v":1.2},{"t":3160,"v":-1.66},{"t":3180,"v":1.2},
{"t":3200,"v":-1.1},{"t":3220,"v":1.2},{"t":3240,"v":-1.66},{"t":3260,"v":1.2},{"t":3280,"v":-1.66},{"t":3300,"v":1.2},{"t":3320,"v":-1.66},{"t":3340,"v":0.8},{"t":3360,"v":-1.66},{"t":3380,"v":1.2},
{"t":3400,"v":-1.66},{"t":3420,"v":1.2},{"t":3440,"v":-1.66},{"t":3460,"v":1.2},{"t":3480,"v":-1.66},{"t":3500,"v":1.2},{"t":3520,"v":-1.66},{"t":3540,"v":1.2},{"t":3560,"v":-1.3},{"t":3580,"v":1.2},
{"t":3600,"v":-1.66},{"t":3620,"v":-2.9},{"t":3640,"v":1.2},{"t":3660,"v":-1.66},{"t":3680,"v":1.2},{"t":3700,"v":-1.66},{"t":3720,"v":1.2},{"t":3740,"v":-1.66},{"t":3760,"v":1.2},{"t":3780,"v":-1.66},
{"t":3800,"v":1.0},{"t":3820,"v":-1.66},{"t":3840,"v":1.2},{"t":3860,"v":-1.66},{"t":3880,"v":1.2},{"t":3900,"v":-1.66},{"t":3920,"v":1.2},{"t":3940,"v":-1.66},{"t":3960,"v":-2.9},{"t":3980,"v":1.2},
{"t":4000,"v":-1.66},{"t":4020,"v":1.2},{"t":4040,"v":-1.66},{"t":4060,"v":1.2},{"t":4080,"v":-1.66},{"t":4100,"v":-2.9},{"t":4120,"v":1.2},{"t":4140,"v":-1.66},{"t":4160,"v":1.2},{"t":4180,"v":-1.66},
{"t":4200,"v":1.2},{"t":4220,"v":-1.66},{"t":4240,"v":0.9},{"t":4260,"v":-1.66},{"t":4280,"v":1.2},{"t":4300,"v":-1.66},{"t":4320,"v":1.2},{"t":4340,"v":-2.9},{"t":4360,"v":1.2},{"t":4380,"v":-1.66},
{"t":4400,"v":1.2},{"t":4420,"v":-1.66},{"t":4440,"v":1.2},{"t":4460,"v":-1.66},{"t":4480,"v":1.2},{"t":4500,"v":-1.2},{"t":4520,"v":1.2},{"t":4540,"v":-1.66},{"t":4560,"v":1.2},{"t":4580,"v":-1.66},
{"t":4600,"v":1.2},{"t":4620,"v":-1.66},{"t":4640,"v":1.2},{"t":4660,"v":-1.66},{"t":4680,"v":1.2},{"t":4700,"v":-1.66},{"t":4720,"v":1.0},{"t":4740,"v":-1.66},{"t":4760,"v":1.2},{"t":4780,"v":-1.66},
{"t":4800,"v":1.2},{"t":4820,"v":-1.66},{"t":4840,"v":1.2},{"t":4860,"v":2.1},{"t":4880,"v":-1.66},{"t":4900,"v":1.2},{"t":4920,"v":-1.66},{"t":4940,"v":1.2},{"t":4960,"v":-1.66},{"t":4980,"v":-2.9},
{"t":5000,"v":1.2}
],
"g":[
{"t":0,"v":3.5},{"t":25,"v":2.0},{"t":50,"v":1.5},{"t":75,"v":2.5},{"t":100,"v":0.8},{"t":125,"v":1.8},{"t":150,"v":2.8},{"t":175,"v":1.2},{"t":200,"v":2.2},{"t":225,"v":3.0},
{"t":250,"v":1.0},{"t":275,"v":2.4},{"t":300,"v":1.6},{"t":325,"v":3.2},{"t":350,"v":0.9},{"t":375,"v":2.0},{"t":400,"v":2.6},{"t":425,"v":1.4},{"t":450,"v":3.0},{"t":475,"v":1.8},
{"t":500,"v":3.6},{"t":525,"v":4.2},{"t":550,"v":4.7},{"t":575,"v":2.5},{"t":600,"v":1.5},{"t":625,"v":2.2},{"t":650,"v":0.8},{"t":675,"v":1.9},{"t":700,"v":3.0},{"t":725,"v":1.2},
{"t":750,"v":2.4},{"t":775,"v":1.6},{"t":800,"v":3.4},{"t":825,"v":2.0},{"t":850,"v":1.0},{"t":875,"v":2.8},{"t":900,"v":1.5},{"t":925,"v":3.6},{"t":950,"v":2.2},{"t":975,"v":4.0},
{"t":1000,"v":1.8},{"t":1025,"v":2.6},{"t":1050,"v":1.2},{"t":1075,"v":3.2},{"t":1100,"v":2.0},{"t":1125,"v":0.7},{"t":1150,"v":2.4},{"t":1175,"v":1.6},{"t":1200,"v":3.0},{"t":1225,"v":1.4},
{"t":1250,"v":2.2},{"t":1275,"v":1.0},{"t":1300,"v":2.8},{"t":1325,"v":1.6},{"t":1350,"v":3.5},{"t":1375,"v":2.0},{"t":1400,"v":1.2},{"t":1425,"v":2.6},{"t":1450,"v":0.5},{"t":1475,"v":2.0},
{"t":1500,"v":1.4},{"t":1525,"v":3.0},{"t":1550,"v":2.2},{"t":1575,"v":1.5},{"t":1600,"v":2.7},{"t":1625,"v":4.5},{"t":1650,"v":2.0},{"t":1675,"v":1.2},{"t":1700,"v":2.6},{"t":1725,"v":1.6},
{"t":1750,"v":3.2},{"t":1775,"v":2.0},{"t":1800,"v":1.0},{"t":1825,"v":2.4},{"t":1850,"v":1.6},{"t":1875,"v":3.4},{"t":1900,"v":2.2},{"t":1925,"v":1.2},{"t":1950,"v":2.8},{"t":1975,"v":1.8},
{"t":2000,"v":2.5},{"t":2025,"v":1.4},{"t":2050,"v":3.0},{"t":2075,"v":2.0},{"t":2100,"v":1.0},{"t":2125,"v":2.6},{"t":2150,"v":3.6},{"t":2175,"v":1.8},{"t":2200,"v":2.4},{"t":2225,"v":1.2},
{"t":2250,"v":3.0},{"t":2275,"v":2.0},{"t":2300,"v":4.2},{"t":2325,"v":1.6},{"t":2350,"v":2.6},{"t":2375,"v":1.2},{"t":2400,"v":3.4},{"t":2425,"v":2.2},{"t":2450,"v":1.0},{"t":2475,"v":2.8},
{"t":2500,"v":1.8},{"t":2525,"v":3.2},{"t":2550,"v":2.4},{"t":2575,"v":1.4},{"t":2600,"v":3.8},{"t":2625,"v":2.6},{"t":2650,"v":4.5},{"t":2675,"v":5.4},{"t":2700,"v":2.2},{"t":2725,"v":1.6},
{"t":2750,"v":2.8},{"t":2775,"v":1.2},{"t":2800,"v":3.0},{"t":2825,"v":2.0},{"t":2850,"v":1.6},{"t":2875,"v":3.6},{"t":2900,"v":2.4},{"t":2925,"v":1.0},{"t":2950,"v":2.8},{"t":2975,"v":4.3},
{"t":3000,"v":1.8},{"t":3025,"v":2.6},{"t":3050,"v":1.2},{"t":3075,"v":3.2},{"t":3100,"v":2.0},{"t":3125,"v":1.4},{"t":3150,"v":3.0},{"t":3175,"v":2.2},{"t":3200,"v":0.8},{"t":3225,"v":2.6},
{"t":3250,"v":3.4},{"t":3275,"v":2.0},{"t":3300,"v":1.4},{"t":3325,"v":4.5},{"t":3350,"v":2.6},{"t":3375,"v":1.6},{"t":3400,"v":3.0},{"t":3425,"v":2.2},{"t":3450,"v":1.2},{"t":3475,"v":2.8},
{"t":3500,"v":2.0},{"t":3525,"v":3.6},{"t":3550,"v":1.5},{"t":3575,"v":2.4},{"t":3600,"v":1.0},{"t":3625,"v":2.8},{"t":3650,"v":2.0},{"t":3675,"v":3.2},{"t":3700,"v":1.4},{"t":3725,"v":2.2},
{"t":3750,"v":3.8},{"t":3775,"v":2.6},{"t":3800,"v":1.6},{"t":3825,"v":2.2},{"t":3850,"v":1.0},{"t":3875,"v":3.0},{"t":3900,"v":2.0},{"t":3925,"v":2.6},{"t":3950,"v":1.2},{"t":3975,"v":3.4},
{"t":4000,"v":2.2},{"t":4025,"v":1.5},{"t":4050,"v":2.8},{"t":4075,"v":4.2},{"t":4100,"v":2.0},{"t":4125,"v":1.2},{"t":4150,"v":2.6},{"t":4175,"v":1.8},{"t":4200,"v":3.0},{"t":4225,"v":1.4},
{"t":4250,"v":2.4},{"t":4275,"v":3.2},{"t":4300,"v":1.6},{"t":4325,"v":2.2},{"t":4350,"v":1.0},{"t":4375,"v":2.8},{"t":4400,"v":3.6},{"t":4425,"v":2.0},{"t":4450,"v":1.4},{"t":4475,"v":2.6},
{"t":4500,"v":1.8},{"t":4525,"v":3.0},{"t":4550,"v":2.2},{"t":4575,"v":1.2},{"t":4600,"v":2.8},{"t":4625,"v":4.0},{"t":4650,"v":1.6},{"t":4675,"v":2.4},{"t":4700,"v":1.0},{"t":4725,"v":2.6},
{"t":4750,"v":3.2},{"t":4775,"v":2.0},{"t":4800,"v":1.4},{"t":4825,"v":3.8},{"t":4850,"v":2.4},{"t":4875,"v":1.2},{"t":4900,"v":2.8},{"t":4925,"v":2.0},{"t":4950,"v":3.4},{"t":4975,"v":1.6},
{"t":5000,"v":2.2}
],
"h":[
{"t":0,"v":4.2},{"t":25,"v":3.0},{"t":50,"v":1.2},{"t":75,"v":2.5},{"t":100,"v":0.8},{"t":125,"v":3.4},{"t":150,"v":1.5},{"t":175,"v":2.8},{"t":200,"v":1.0},{"t":225,"v":4.9},
{"t":250,"v":2.6},{"t":275,"v":1.4},{"t":300,"v":3.2},{"t":325,"v":0.8},{"t":350,"v":2.2},{"t":375,"v":1.5},{"t":400,"v":3.6},{"t":425,"v":2.0},{"t":450,"v":1.0},{"t":475,"v":2.8},
{"t":500,"v":1.6},{"t":525,"v":3.4},{"t":550,"v":4.0},{"t":575,"v":2.2},{"t":600,"v":5.5},{"t":625,"v":3.2},{"t":650,"v":1.2},{"t":675,"v":2.6},{"t":700,"v":0.8},{"t":725,"v":2.0},
{"t":750,"v":3.0},{"t":775,"v":1.4},{"t":800,"v":2.4},{"t":825,"v":4.0},{"t":850,"v":1.8},{"t":875,"v":0.9},{"t":900,"v":2.6},{"t":925,"v":1.5},{"t":950,"v":3.8},{"t":975,"v":2.2},
{"t":1000,"v":1.0},{"t":1025,"v":2.8},{"t":1050,"v":1.6},{"t":1075,"v":3.4},{"t":1100,"v":2.0},{"t":1125,"v":0.7},{"t":1150,"v":2.4},{"t":1175,"v":1.4},{"t":1200,"v":3.0},{"t":1225,"v":5.5},
{"t":1250,"v":3.6},{"t":1275,"v":4.4},{"t":1300,"v":2.0},{"t":1325,"v":3.0},{"t":1350,"v":1.2},{"t":1375,"v":2.6},{"t":1400,"v":0.8},{"t":1425,"v":2.2},{"t":1450,"v":3.6},{"t":1475,"v":1.4},
{"t":1500,"v":2.8},{"t":1525,"v":1.6},{"t":1550,"v":5.5},{"t":1575,"v":3.0},{"t":1600,"v":2.0},{"t":1625,"v":1.2},{"t":1650,"v":3.2},{"t":1675,"v":2.4},{"t":1700,"v":1.0},{"t":1725,"v":2.6},
{"t":1750,"v":3.8},{"t":1775,"v":1.8},{"t":1800,"v":2.8},{"t":1825,"v":5.6},{"t":1850,"v":3.4},{"t":1875,"v":1.6},{"t":1900,"v":2.4},{"t":1925,"v":1.0},{"t":1950,"v":3.2},{"t":1975,"v":4.6},
{"t":2000,"v":2.2},{"t":2025,"v":3.6},{"t":2050,"v":1.4},{"t":2075,"v":2.8},{"t":2100,"v":1.8},{"t":2125,"v":3.4},{"t":2150,"v":2.2},{"t":2175,"v":1.0},{"t":2200,"v":2.6},{"t":2225,"v":4.0},
{"t":2250,"v":2.0},{"t":2275,"v":3.2},{"t":2300,"v":1.6},{"t":2325,"v":2.6},{"t":2350,"v":0.9},{"t":2375,"v":3.0},{"t":2400,"v":2.2},{"t":2425,"v":4.0},{"t":2450,"v":1.8},{"t":2475,"v":2.8},
{"t":2500,"v":1.4},{"t":2525,"v":3.4},{"t":2550,"v":2.0},{"t":2575,"v":4.2},{"t":2600,"v":2.6},{"t":2625,"v":5.4},{"t":2650,"v":3.0},{"t":2675,"v":1.8},{"t":2700,"v":2.4},{"t":2725,"v":1.2},
{"t":2750,"v":3.2},{"t":2775,"v":2.0},{"t":2800,"v":4.4},{"t":2825,"v":1.6},{"t":2850,"v":2.8},{"t":2875,"v":1.0},{"t":2900,"v":3.0},{"t":2925,"v":2.2},{"t":2950,"v":3.8},{"t":2975,"v":1.6},
{"t":3000,"v":2.6},{"t":3025,"v":4.2},{"t":3050,"v":2.0},{"t":3075,"v":3.2},{"t":3100,"v":1.4},{"t":3125,"v":2.4},{"t":3150,"v":3.6},{"t":3175,"v":1.8},{"t":3200,"v":2.8},{"t":3225,"v":4.0},
{"t":3250,"v":1.6},{"t":3275,"v":3.0},{"t":3300,"v":2.2},{"t":3325,"v":1.2},{"t":3350,"v":2.8},{"t":3375,"v":3.6},{"t":3400,"v":2.0},{"t":3425,"v":1.4},{"t":3450,"v":2.6},{"t":3475,"v":4.2},
{"t":3500,"v":3.0},{"t":3525,"v":6.2},{"t":3550,"v":4.0},{"t":3575,"v":2.4},{"t":3600,"v":1.6},{"t":3625,"v":3.2},{"t":3650,"v":2.0},{"t":3675,"v":1.2},{"t":3700,"v":2.8},{"t":3725,"v":3.6},
{"t":3750,"v":2.2},{"t":3775,"v":5.6},{"t":3800,"v":3.0},{"t":3825,"v":1.6},{"t":3850,"v":2.6},{"t":3875,"v":4.4},{"t":3900,"v":2.0},{"t":3925,"v":3.2},{"t":3950,"v":1.2},{"t":3975,"v":2.4},
{"t":4000,"v":3.4},{"t":4025,"v":2.0},{"t":4050,"v":4.6},{"t":4075,"v":2.8},{"t":4100,"v":1.4},{"t":4125,"v":3.0},{"t":4150,"v":2.2},{"t":4175,"v":4.0},{"t":4200,"v":1.8},{"t":4225,"v":2.6},
{"t":4250,"v":3.6},{"t":4275,"v":1.6},{"t":4300,"v":2.8},{"t":4325,"v":4.8},{"t":4350,"v":2.4},{"t":4375,"v":1.2},{"t":4400,"v":3.2},{"t":4425,"v":2.0},{"t":4450,"v":5.0},{"t":4475,"v":3.0},
{"t":4500,"v":1.8},{"t":4525,"v":2.6},{"t":4550,"v":3.6},{"t":4575,"v":2.0},{"t":4600,"v":7.4},{"t":4625,"v":5.8},{"t":4650,"v":4.4},{"t":4675,"v":3.2},{"t":4700,"v":2.0},{"t":4725,"v":2.8},
{"t":4750,"v":1.4},{"t":4775,"v":3.4},{"t":4800,"v":2.2},{"t":4825,"v":4.0},{"t":4850,"v":1.6},{"t":4875,"v":2.8},{"t":4900,"v":4.9},{"t":4925,"v":3.0},{"t":4950,"v":1.8},{"t":4975,"v":2.4},
{"t":5000,"v":3.0}
]
},
"vconcat":[
{"width":820,"height":96,
"layer":[
{"data":{"name":"a"},"mark":{"type":"line","color":"#0072BD","strokeWidth":2.6,"interpolate":"step","clip":true},
"encoding":{
"x":{"field":"t","type":"quantitative","scale":{"domain":[0,5000],"nice":false},"axis":{"values":[0,500,1000,1500,2000,2500,3000,3500,4000,4500,5000],"labels":false,"title":null}},
"y":{"field":"v","type":"quantitative","scale":{"domain":[-2.55,2.7],"nice":false,"zero":false},"axis":{"values":[-2,0,2],"title":"FBG1 Raw","titleX":-21,"titleY":48}}}},
{"data":{"name":"b"},"mark":{"type":"line","color":"#D95319","strokeWidth":3.2,"interpolate":"step","clip":true},
"encoding":{"x":{"field":"t","type":"quantitative"},"y":{"field":"v","type":"quantitative"}}},
{"data":{"values":[{"s":"FBG1 No-void"},{"s":"FBG1 Void"},{"s":"FBG1 Env No-void"},{"s":"FBG1 Env Void"}]},
"mark":{"type":"line","clip":true},
"encoding":{"x":{"datum":0,"type":"quantitative"},"y":{"datum":0,"type":"quantitative"},
"color":{"field":"s","type":"nominal","scale":{"domain":["FBG1 No-void","FBG1 Void","FBG1 Env No-void","FBG1 Env Void"],"range":["#0072BD","#D95319","#0072BD","#D95319"]},
"legend":{"orient":"none","legendX":122,"legendY":101,"direction":"horizontal","title":null,"symbolType":"stroke","symbolSize":1300,"symbolStrokeWidth":1.5,"labelFont":"Liberation Serif","labelFontSize":12.5,"labelColor":"#000000","labelOffset":2,"columnPadding":5,"padding":0}},
"strokeDash":{"field":"s","type":"nominal","scale":{"domain":["FBG1 No-void","FBG1 Void","FBG1 Env No-void","FBG1 Env Void"],"range":[[1,0],[1,0],[8,5],[8,5]]},
"legend":{"orient":"none","legendX":122,"legendY":101,"direction":"horizontal","title":null,"symbolType":"stroke","symbolSize":1300,"symbolStrokeWidth":1.5,"labelFont":"Liberation Serif","labelFontSize":12.5,"labelColor":"#000000","labelOffset":2,"columnPadding":5,"padding":0}}}},
{"data":{"values":[{}]},"mark":{"type":"text","text":"×10⁻³","align":"left","baseline":"bottom","dy":-3,"font":"Liberation Serif","fontSize":13,"color":"#262626"},
"encoding":{"x":{"datum":0,"type":"quantitative"},"y":{"datum":2.7,"type":"quantitative"}}}
]},
{"width":820,"height":96,
"layer":[
{"data":{"name":"c"},"mark":{"type":"line","color":"#0072BD","strokeWidth":1.8,"strokeDash":[6,3],"clip":true},
"encoding":{
"x":{"field":"t","type":"quantitative","scale":{"domain":[0,5000],"nice":false},"axis":{"values":[0,500,1000,1500,2000,2500,3000,3500,4000,4500,5000],"labels":false,"title":null}},
"y":{"field":"v","type":"quantitative","scale":{"domain":[0,1],"nice":false},"axis":{"values":[0,0.5,1],"title":"FBG1 Env","titleX":-21,"titleY":48}}}},
{"data":{"name":"d"},"mark":{"type":"line","color":"#D95319","strokeWidth":1.8,"strokeDash":[6,3],"clip":true},
"encoding":{"x":{"field":"t","type":"quantitative"},"y":{"field":"v","type":"quantitative"}}},
{"data":{"values":[{}]},"mark":{"type":"text","text":"×10⁻³","align":"left","baseline":"bottom","dy":-3,"font":"Liberation Serif","fontSize":13,"color":"#262626"},
"encoding":{"x":{"datum":0,"type":"quantitative"},"y":{"datum":1,"type":"quantitative"}}}
]},
{"width":820,"height":96,
"layer":[
{"data":{"name":"e"},"mark":{"type":"line","color":"#0072BD","strokeWidth":2.6,"interpolate":"step","clip":true},
"encoding":{
"x":{"field":"t","type":"quantitative","scale":{"domain":[0,5000],"nice":false},"axis":{"values":[0,500,1000,1500,2000,2500,3000,3500,4000,4500,5000],"labels":false,"title":null}},
"y":{"field":"v","type":"quantitative","scale":{"domain":[-2.75,2.05],"nice":false,"zero":false},"axis":{"values":[-2,0,2],"title":"FBG2 Raw","titleX":-21,"titleY":48}}}},
{"data":{"name":"f"},"mark":{"type":"line","color":"#D95319","strokeWidth":3.2,"interpolate":"step","clip":true},
"encoding":{"x":{"field":"t","type":"quantitative"},"y":{"field":"v","type":"quantitative"}}},
{"data":{"values":[{}]},"mark":{"type":"text","text":"×10⁻³","align":"left","baseline":"bottom","dy":-3,"font":"Liberation Serif","fontSize":13,"color":"#262626"},
"encoding":{"x":{"datum":0,"type":"quantitative"},"y":{"datum":2.05,"type":"quantitative"}}}
]},
{"width":820,"height":96,
"layer":[
{"data":{"name":"g"},"mark":{"type":"line","color":"#0072BD","strokeWidth":1.8,"strokeDash":[6,3],"clip":true},
"encoding":{
"x":{"field":"t","type":"quantitative","scale":{"domain":[0,5000],"nice":false},"axis":{"values":[0,500,1000,1500,2000,2500,3000,3500,4000,4500,5000],"labelExpr":"datum.value/1000","title":"Time (s)","titlePadding":3}},
"y":{"field":"v","type":"quantitative","scale":{"domain":[0,7.45],"nice":false},"axis":{"values":[0,2,4,6],"title":"FBG2 Env","titleX":-21,"titleY":48}}}},
{"data":{"name":"h"},"mark":{"type":"line","color":"#D95319","strokeWidth":1.8,"strokeDash":[6,3],"clip":true},
"encoding":{"x":{"field":"t","type":"quantitative"},"y":{"field":"v","type":"quantitative"}}},
{"data":{"values":[{}]},"mark":{"type":"text","text":"×10⁻⁴","align":"left","baseline":"bottom","dy":-3,"font":"Liberation Serif","fontSize":13,"color":"#262626"},
"encoding":{"x":{"datum":0,"type":"quantitative"},"y":{"datum":7.45,"type":"quantitative"}}}
]}
]
}
